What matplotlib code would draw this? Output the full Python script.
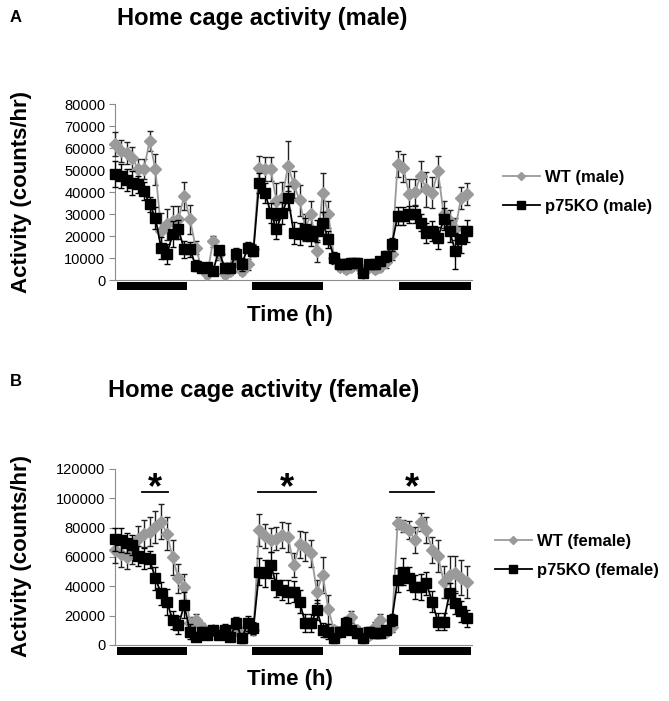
import numpy as np
import matplotlib.pyplot as plt
from matplotlib.patches import Rectangle
from matplotlib.transforms import blended_transform_factory

plt.rcParams["font.family"] = ["Liberation Sans", "DejaVu Sans"]

hours = np.arange(62)

# male (counts/hr)
wt_male = [62000, 58600, 57900, 55600, 50300, 50300, 63200, 50300, 22300, 25300, 26800, 27600, 38200,
           27600, 14700, 5600, 2600, 17700, 11700, 2600, 4100, 8600, 4100, 7100, 13900,
           51000, 50300, 50300, 35900, 37400, 51800, 43500, 36200, 23800, 29800, 13200, 39700, 29800,
           10000, 6000, 5000, 6000, 7000, 3000, 6000, 5000, 6000, 8000, 12000,
           52600, 51000, 38900, 40000, 47300, 41200, 39700, 49500, 29800, 26800, 23000, 37400, 38900]
wt_male_err = [5500, 5000, 5000, 5000, 4500, 4500, 4500, 7000, 8000, 7000, 7000, 6000, 6500,
               6500, 3000, 2000, 1500, 2500, 2500, 1500, 2000, 2500, 2000, 2500, 2500,
               5500, 5500, 5500, 8000, 7000, 11500, 6000, 7000, 6000, 6000, 5000, 9000, 6000,
               2500, 2000, 2000, 2000, 2000, 1500, 2000, 2000, 2000, 2500, 3000,
               6000, 6500, 7000, 6000, 7000, 8000, 7000, 7000, 6000, 5000, 5000, 5000, 5000]
ko_male = [48300, 47300, 45300, 44200, 43500, 40500, 34400, 28300, 14400, 11700, 20800, 23000, 13900,
           13900, 6400, 5600, 5900, 4100, 13500, 5600, 5600, 12000, 7100, 14700, 13200,
           44200, 39700, 30600, 23000, 30600, 37400, 21500, 20800, 23000, 20000, 22300, 26100, 18500,
           10200, 7100, 7400, 7900, 7900, 3300, 7100, 7100, 8600, 10900, 16200,
           29100, 29100, 29800, 29800, 26100, 21500, 22300, 19200, 27600, 22300, 13200, 18500, 22300]
ko_male_err = [6000, 5500, 5000, 5500, 4000, 4000, 3500, 5000, 5000, 4500, 6000, 4500, 4000,
               3500, 2500, 2000, 2000, 2000, 2000, 2000, 2000, 2500, 3000, 2500, 2500,
               4500, 4500, 4500, 4500, 5000, 5500, 5000, 5000, 5000, 4500, 5000, 5000, 4000,
               2500, 2000, 2000, 2000, 2000, 2000, 2000, 2000, 2000, 2500, 3000,
               4000, 4000, 4000, 4000, 4000, 4500, 4500, 5000, 5000, 5000, 8000, 6000, 5000]

# female
wt_female = [64700, 62000, 60000, 63000, 72000, 76000, 77200, 80600, 84000, 76000, 59700, 45400, 39700,
             15000, 17000, 12000, 9000, 10000, 8000, 9000, 7000, 10000, 8000, 12000, 10000,
             78300, 74200, 71500, 72600, 74900, 73300, 54500, 68600, 67000, 62400, 36300, 47700, 24300,
             10000, 9000, 12000, 19300, 10000, 8000, 7000, 12000, 17000, 9000, 12000,
             83300, 81000, 78300, 71500, 84000, 78300, 64700, 60600, 43100, 47700, 48800, 46000, 43100]
wt_female_err = [9000, 9000, 8000, 8000, 9000, 9000, 10000, 11000, 12000, 11000, 12000, 10000, 9000,
                 4000, 4000, 3000, 3000, 3000, 3000, 3000, 3000, 3000, 3000, 3000, 3000,
                 11000, 8000, 8000, 8000, 9000, 10000, 8000, 9000, 10000, 9000, 8000, 12000, 10000,
                 3000, 3000, 3000, 4000, 3000, 3000, 3000, 4000, 4000, 3000, 3000,
                 4000, 4000, 6000, 9000, 6000, 9000, 9000, 11000, 11000, 13000, 12000, 12000, 11000]
ko_female = [72000, 71500, 69700, 68100, 60600, 59000, 58300, 45400, 35200, 29500, 17000, 13600, 27200,
             9100, 5700, 9100, 6800, 10200, 6800, 10200, 5700, 14800, 4500, 14800, 11400,
             50000, 48800, 54500, 40900, 37500, 36300, 36300, 29500, 14800, 14800, 23800, 10200, 9100,
             4500, 9100, 14800, 10200, 8000, 4500, 9100, 8000, 8000, 10200, 17000,
             44300, 50000, 45400, 39700, 39700, 42000, 29500, 15900, 15900, 35200, 28400, 23000, 18200]
ko_female_err = [8000, 8000, 7000, 7000, 7000, 7000, 6000, 8000, 8000, 9000, 6000, 6000, 9000,
                 5000, 3000, 3000, 3000, 3000, 3000, 4000, 3000, 4000, 3000, 5000, 4000,
                 9000, 9000, 9000, 8000, 7000, 8000, 7000, 8000, 6000, 6000, 7000, 5000, 5000,
                 3000, 3000, 4000, 3000, 3000, 3000, 3000, 3000, 3000, 3000, 4000,
                 8000, 9000, 8000, 8000, 9000, 8000, 7000, 6000, 6000, 7000, 7000, 7000, 6000]

dark_periods = [(0.3, 12.5), (23.7, 36.1), (49.2, 61.8)]
sig_spans = [(4.6, 9.2), (24.8, 34.8), (47.7, 55.3)]

W, H = 669, 701
fig = plt.figure(figsize=(W / 100, H / 100), dpi=100)


def px_axes(x0, ytop, x1, ybot):
    return fig.add_axes([x0 / W, 1 - ybot / H, (x1 - x0) / W, (ybot - ytop) / H])


def draw_panel(ax, wt, wt_err, ko, ko_err, ymax, step, wt_label, ko_label, leg_xy):
    ax.errorbar(hours, wt, yerr=wt_err, color="#9a9a9a", ecolor="#222222", elinewidth=1,
                capsize=2.5, capthick=1, marker="D", markersize=6.5, lw=1.3, clip_on=False,
                label=wt_label, zorder=3)
    ax.errorbar(hours, ko, yerr=ko_err, color="black", ecolor="black", elinewidth=1,
                capsize=2.5, capthick=1, marker="s", markersize=6.5, lw=1.3, clip_on=False,
                label=ko_label, zorder=4)
    ax.set_xlim(0, 61.9)
    ax.set_ylim(0, ymax)
    ax.set_yticks(np.arange(0, ymax + 1, step))
    ax.set_xticks([])
    for s in ["top", "right"]:
        ax.spines[s].set_visible(False)
    ax.spines["left"].set_color("#8c8c8c")
    ax.spines["bottom"].set_color("#8c8c8c")
    ax.tick_params(axis="y", length=4, color="#8c8c8c", labelsize=10.5, pad=3)
    trans = blended_transform_factory(ax.transData, ax.transAxes)
    for a, b in dark_periods:
        ax.add_patch(Rectangle((a, -0.055), b - a, 0.045, transform=trans,
                               facecolor="black", edgecolor="none", clip_on=False))
    h, l = ax.get_legend_handles_labels()
    leg = fig.legend([hh[0] for hh in h], l, loc="center left", bbox_to_anchor=leg_xy,
                     frameon=False, prop={"weight": "bold", "size": 12}, handlelength=2.2,
                     handletextpad=0.3, labelspacing=0.8, borderpad=0, borderaxespad=0,
                     markerscale=0.8)
    leg.legend_handles[0].set_markersize(4)


axA = px_axes(115, 104, 472, 280)
draw_panel(axA, wt_male, wt_male_err, ko_male, ko_male_err, 80000, 10000,
           "WT (male)", "p75KO (male)", (503 / W, 1 - 192 / H))

axB = px_axes(115, 469, 472, 645)
draw_panel(axB, wt_female, wt_female_err, ko_female, ko_female_err, 120000, 20000,
           "WT (female)", "p75KO (female)", (495 / W, 1 - 556 / H))

# significance bars
for a, b in sig_spans:
    axB.plot([a, b], [104000, 104000], color="black", lw=1.3, clip_on=False)
    axB.text((a + b) / 2, 106500, "*", ha="center", va="center", fontsize=26,
             fontweight="bold", clip_on=False)

bold = dict(fontweight="bold")
fig.text(262 / W, 1 - 18 / H, "Home cage activity (male)", ha="center", va="center", fontsize=17, **bold)
fig.text(264 / W, 1 - 390 / H, "Home cage activity (female)", ha="center", va="center", fontsize=17, **bold)
fig.text(10 / W, 1 - 17 / H, "A", ha="left", va="center", fontsize=12, **bold)
fig.text(10 / W, 1 - 382 / H, "B", ha="left", va="center", fontsize=12, **bold)
fig.text(22 / W, 1 - 192 / H, "Activity (counts/hr)", ha="center", va="center", rotation=90, fontsize=16, **bold)
fig.text(22 / W, 1 - 556 / H, "Activity (counts/hr)", ha="center", va="center", rotation=90, fontsize=16, **bold)
fig.text(290 / W, 1 - 316 / H, "Time (h)", ha="center", va="center", fontsize=16, **bold)
fig.text(290 / W, 1 - 680 / H, "Time (h)", ha="center", va="center", fontsize=16, **bold)

fig.savefig("out.png", dpi=100)
